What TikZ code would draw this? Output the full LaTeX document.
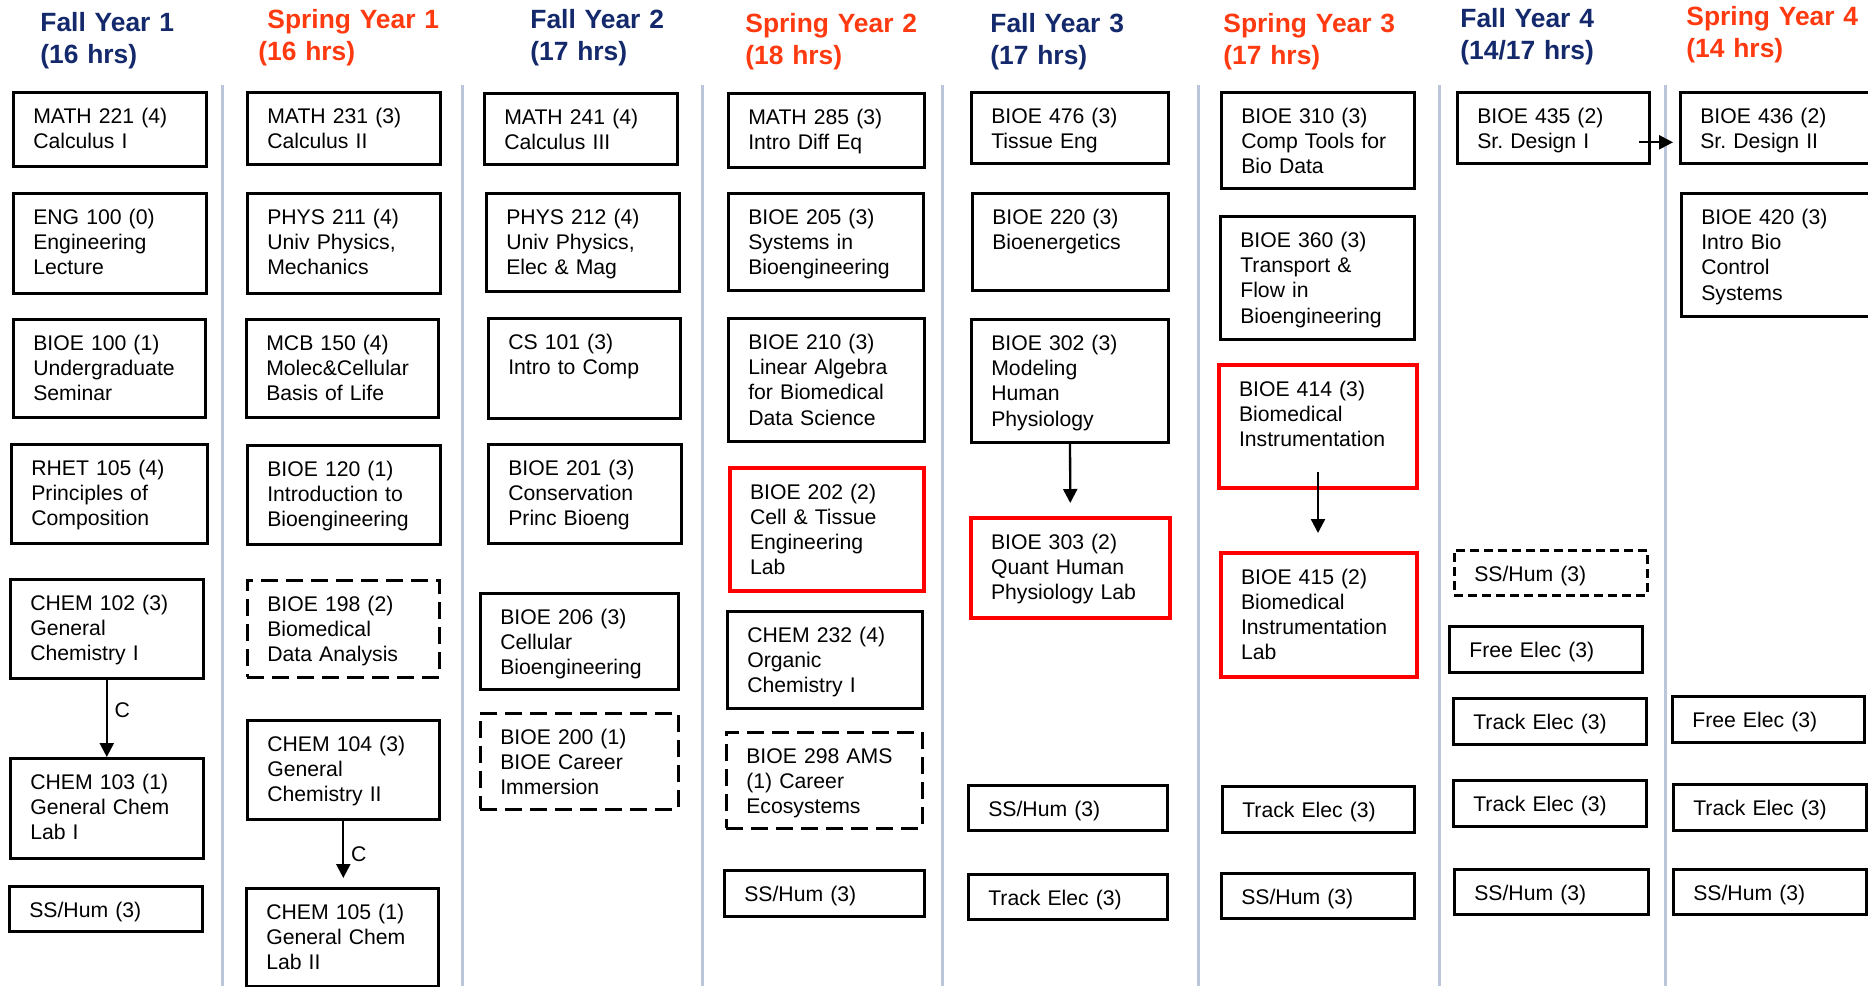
\documentclass[tikz,border=0pt]{standalone}
\usepackage{fontspec}
\setmainfont{Liberation Sans}
\usepackage{xcolor}
\usepackage{tikz}
\usetikzlibrary{arrows.meta}
\definecolor{fallBlue}{HTML}{13296B}
\definecolor{springRed}{HTML}{FF3A10}
\definecolor{sepGray}{HTML}{BCC6DA}
\newcommand{\crsfont}{\fontsize{10.6}{12.65}\selectfont}
\newcommand{\termfont}{\fontsize{13.2}{16}\selectfont\bfseries}
\tikzset{
  courseBox/.style={
    rectangle,
    draw=black,
    line width=1.3pt,
    anchor=north west,
    inner xsep=10pt,
    inner ysep=0pt,
    text height=15.5pt,
    align=left,
    font=\crsfont
  },
  labBox/.style={
    courseBox,
    draw=red,
    line width=2pt
  },
  optBox/.style={
    courseBox,
    dash pattern=on 8.5pt off 4pt
  },
  % box size in px: width, height
  sz/.code 2 args={
    \pgfmathsetmacro\crsw{#1/2-20}
    \pgfmathsetmacro\crsd{#2/2-15.5}
    \edef\crsopts{text width=\crsw pt,text depth=\crsd pt}
    \expandafter\pgfkeysalso\expandafter{\crsopts}
  },
  termFall/.style={
    anchor=base west,
    inner sep=0pt,
    text width=110pt,
    align=left,
    font=\termfont,
    text=fallBlue
  },
  termSpring/.style={
    termFall,
    text=springRed
  },
  arrowLine/.style={
    -{Triangle[length=7pt,width=7pt]},
    line width=1.15pt
  },
  sepLine/.style={
    draw=sepGray,
    line width=1.5pt
  }
}

\begin{document}
\begin{tikzpicture}[x=0.5pt,y=-0.5pt]
        \useasboundingbox[fill=white] (0,0) rectangle (1868,986);
        \clip (0,0) rectangle (1868,986);

        \foreach \sx in {222,462,702,942,1198,1439,1665}
            \draw[sepLine] (\sx,85) -- (\sx,986);

        % semester headings
        \node[termFall] (fall1) at (40,31) {Fall Year 1\\(16 hrs)};
        \node[termSpring] (spring1) at (258,28.5) {\hspace*{4.5pt}Spring Year 1\\(16 hrs)};
        \node[termFall] (fall2) at (530,28.5) {Fall Year 2\\(17 hrs)};
        \node[termSpring] (spring2) at (745,32) {Spring Year 2\\(18 hrs)};
        \node[termFall] (fall3) at (990,32) {Fall Year 3\\(17 hrs)};
        \node[termSpring] (spring3) at (1223,32) {Spring Year 3\\(17 hrs)};
        \node[termFall] (fall4) at (1460,27) {Fall Year 4\\(14/17 hrs)};
        \node[termSpring] (spring4) at (1686,25) {Spring Year 4\\(14 hrs)};

        % Fall Year 1
        \node[courseBox, sz={193}{74}] (math221) at (12,91) {MATH 221 (4)\\Calculus I};
        \node[courseBox, sz={193}{100}] (eng100) at (12,192) {ENG 100 (0)\\Engineering\\Lecture};
        \node[courseBox, sz={192}{98}] (bioe100) at (12,318) {BIOE 100 (1)\\Undergraduate\\Seminar};
        \node[courseBox, sz={196}{99}] (rhet105) at (10,443) {RHET 105 (4)\\Principles of\\Composition};
        \node[courseBox, sz={193}{99}] (chem102) at (9,578) {CHEM 102 (3)\\General\\Chemistry I};
        \node[courseBox, sz={193}{100}] (chem103) at (9,757) {CHEM 103 (1)\\General Chem\\Lab I};
        \node[courseBox, sz={193}{45}] (sshF1) at (8,885) {SS/Hum (3)};

        % Spring Year 1
        \node[courseBox, sz={193}{72}] (math231) at (246,91) {MATH 231 (3)\\Calculus II};
        \node[courseBox, sz={193}{100}] (phys211) at (246,192) {PHYS 211 (4)\\Univ Physics,\\Mechanics};
        \node[courseBox, sz={192}{98}] (mcb150) at (245,318) {MCB 150 (4)\\Molec\&Cellular\\Basis of Life};
        \node[courseBox, sz={193}{99}] (bioe120) at (246,444) {BIOE 120 (1)\\Introduction to\\Bioengineering};
        \node[optBox, sz={192}{97}] (bioe198) at (246,579) {BIOE 198 (2)\\Biomedical\\Data Analysis};
        \node[courseBox, sz={192}{99}] (chem104) at (246,719) {CHEM 104 (3)\\General\\Chemistry II};
        \node[courseBox, sz={192}{98}] (chem105) at (245,887) {CHEM 105 (1)\\General Chem\\Lab II};

        % Fall Year 2
        \node[courseBox, sz={193}{71}] (math241) at (483,92) {MATH 241 (4)\\Calculus III};
        \node[courseBox, sz={193}{98}] (phys212) at (485,192) {PHYS 212 (4)\\Univ Physics,\\Elec \& Mag};
        \node[courseBox, sz={192}{100}] (cs101) at (487,317) {CS 101 (3)\\Intro to Comp};
        \node[courseBox, sz={193}{99}] (bioe201) at (487,443) {BIOE 201 (3)\\Conservation\\Princ Bioeng};
        \node[courseBox, sz={198}{96}] (bioe206) at (479,592) {BIOE 206 (3)\\Cellular\\Bioengineering};
        \node[optBox, sz={198}{96}] (bioe200) at (479,712) {BIOE 200 (1)\\BIOE Career\\Immersion};

        % Spring Year 2
        \node[courseBox, sz={196}{74}] (math285) at (727,92) {MATH 285 (3)\\Intro Diff Eq};
        \node[courseBox, sz={195}{97}] (bioe205) at (727,192) {BIOE 205 (3)\\Systems in\\Bioengineering};
        \node[courseBox, sz={196}{123}] (bioe210) at (727,317) {BIOE 210 (3)\\Linear Algebra\\for Biomedical\\Data Science};
        \node[labBox, sz={194}{123}] (bioe202) at (728,466) {BIOE 202 (2)\\Cell \& Tissue\\Engineering\\Lab};
        \node[courseBox, sz={195}{97}] (chem232) at (726,610) {CHEM 232 (4)\\Organic\\Chemistry I};
        \node[optBox, sz={196}{96}] (bioe298) at (725,731) {BIOE 298 AMS\\(1) Career\\Ecosystems};
        \node[courseBox, sz={200}{46}] (sshS2) at (723,869) {SS/Hum (3)};

        % Fall Year 3
        \node[courseBox, sz={197}{71}] (bioe476) at (970,91) {BIOE 476 (3)\\Tissue Eng};
        \node[courseBox, sz={196}{97}] (bioe220) at (971,192) {BIOE 220 (3)\\Bioenergetics};
        \node[courseBox, sz={197}{123}] (bioe302) at (970,318) {BIOE 302 (3)\\Modeling\\Human\\Physiology};
        \node[labBox, sz={199}{100}] (bioe303) at (969,516) {BIOE 303 (2)\\Quant Human\\Physiology Lab};
        \node[courseBox, sz={199}{45}] (sshF3) at (967,784) {SS/Hum (3)};
        \node[courseBox, sz={199}{45}] (trackF3) at (967,873) {Track Elec (3)};

        % Spring Year 3
        \node[courseBox, sz={193}{96}] (bioe310) at (1220,91) {BIOE 310 (3)\\Comp Tools for\\Bio Data};
        \node[courseBox, sz={194}{123}] (bioe360) at (1219,215) {BIOE 360 (3)\\Transport \&\\Flow in\\Bioengineering};
        \node[labBox, sz={198}{123}] (bioe414) at (1217,363) {BIOE 414 (3)\\Biomedical\\Instrumentation};
        \node[labBox, sz={196}{124}] (bioe415) at (1219,551) {BIOE 415 (2)\\Biomedical\\Instrumentation\\Lab};
        \node[courseBox, sz={192}{46}] (trackS3) at (1221,785) {Track Elec (3)};
        \node[courseBox, sz={193}{45}] (sshS3) at (1220,872) {SS/Hum (3)};

        % Fall Year 4
        \node[courseBox, sz={192}{71}] (bioe435) at (1456,91) {BIOE 435 (2)\\Sr.\ Design I};
        \node[optBox, dash pattern=on 4.5pt off 2.5pt, sz={193}{45}] (sshOptF4) at (1453,549) {SS/Hum (3)};
        \node[courseBox, sz={193}{46}] (freeF4) at (1448,625) {Free Elec (3)};
        \node[courseBox, sz={193}{46}] (trackF4a) at (1452,697) {Track Elec (3)};
        \node[courseBox, sz={193}{46}] (trackF4b) at (1452,779) {Track Elec (3)};
        \node[courseBox, sz={194}{45}] (sshF4) at (1453,868) {SS/Hum (3)};

        % Spring Year 4
        \node[courseBox, sz={220}{71}] (bioe436) at (1679,91) {BIOE 436 (2)\\Sr.\ Design II};
        \node[courseBox, sz={220}{123}] (bioe420) at (1680,192) {BIOE 420 (3)\\Intro Bio\\Control\\Systems};
        \node[courseBox, sz={192}{46}] (freeS4) at (1671,695) {Free Elec (3)};
        \node[courseBox, sz={193}{46}] (trackS4) at (1672,783) {Track Elec (3)};
        \node[courseBox, sz={193}{45}] (sshS4) at (1672,868) {SS/Hum (3)};

        % prerequisites
        \draw[arrowLine] (chem102) -- node[right, pos=0.4, font=\crsfont]{C} (chem103);
        \draw[arrowLine, shorten >=4.5pt] (chem104.south) -- node[right, pos=0.5, font=\crsfont]{C} (chem104.south |- chem105.north);
        \draw[arrowLine, shorten >=6.5pt] (bioe302) -- (bioe303);
        \draw[arrowLine, shorten >=9pt] ([yshift=9pt]bioe414.south) -- (bioe414.south |- bioe415.north);
        \draw[arrowLine] ([xshift=-6pt,yshift=-7.25pt]bioe435.east) -- ([xshift=-3pt,yshift=-7.25pt]bioe436.west);
    \end{tikzpicture}
\end{document}
